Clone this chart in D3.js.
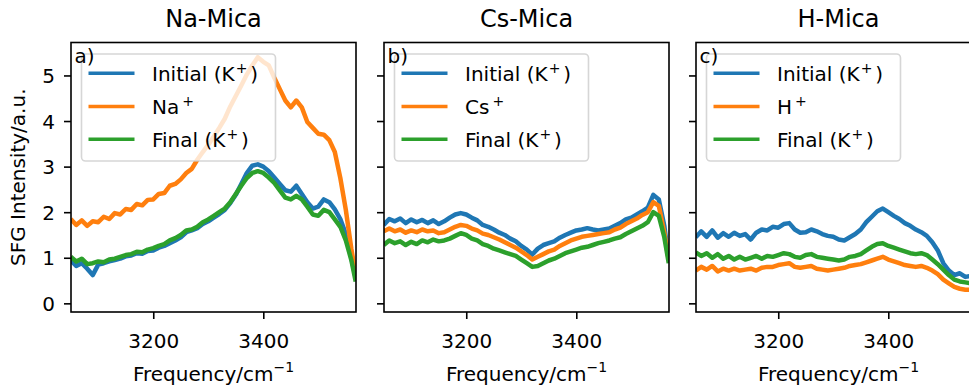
<!DOCTYPE html>
<html><head><meta charset="utf-8">
<script src="https://cdn.jsdelivr.net/npm/d3@7"></script>
<style>body{margin:0;background:#fff} svg{display:block} text{font-family:"DejaVu Sans",sans-serif;fill:#000}</style>
</head><body><svg id="c" width="969" height="389"></svg>
<script>
// ---------------- data ----------------
const frequency = [
 3050,3060,3070,3080,3090,3100,3110,3120,3130,3140,
 3150,3160,3170,3180,3190,3200,3210,3220,3230,3240,
 3250,3260,3270,3280,3290,3300,3310,3320,3330,3340,
 3350,3360,3370,3380,3390,3400,3410,3420,3430,3440,
 3450,3460,3470,3480,3490,3500,3510,3520,3530,3540,
 3550,3560,3568];
const panelTitles = ["Na-Mica","Cs-Mica","H-Mica"];
const panelLetters = ["a)","b)","c)"];
const ionNames = ["Na","Cs","H"];
const xTicks = [3200,3400];
const yTicks = [0,1,2,3,4,5];

const naInitial = [
 0.95,0.82,0.88,0.76,0.62,0.85,0.88,0.92,0.95,0.98,
 1.03,1.05,1.10,1.09,1.15,1.16,1.22,1.26,1.32,1.38,
 1.45,1.56,1.60,1.65,1.74,1.80,1.88,1.96,2.05,2.20,
 2.38,2.62,2.86,3.02,3.05,3.00,2.90,2.76,2.62,2.48,
 2.45,2.58,2.40,2.22,2.08,2.12,2.28,2.22,2.06,1.85,
 1.52,1.00,0.55];
const naIon = [
 1.85,1.72,1.82,1.70,1.80,1.78,1.90,1.85,1.98,1.95,
 2.07,2.05,2.18,2.15,2.27,2.28,2.40,2.42,2.58,2.62,
 2.72,2.86,2.95,3.15,3.32,3.48,3.66,3.85,4.05,4.32,
 4.55,4.78,5.02,5.22,5.40,5.30,5.22,4.95,4.70,4.45,
 4.30,4.45,4.30,3.98,3.85,3.72,3.70,3.58,3.32,2.75,
 2.05,1.20,0.62];
const naFinal = [
 1.02,0.92,0.98,0.86,0.88,0.92,0.90,0.96,0.98,1.02,
 1.06,1.08,1.13,1.12,1.18,1.21,1.26,1.30,1.38,1.43,
 1.50,1.60,1.62,1.68,1.78,1.84,1.92,2.00,2.08,2.22,
 2.40,2.58,2.75,2.86,2.90,2.86,2.76,2.64,2.48,2.32,
 2.28,2.36,2.28,2.12,1.95,1.92,2.05,2.00,1.84,1.68,
 1.38,0.95,0.48];

const csInitial = [
 1.72,1.85,1.80,1.86,1.76,1.84,1.78,1.83,1.76,1.82,
 1.74,1.80,1.88,1.95,1.98,1.95,1.88,1.82,1.72,1.68,
 1.62,1.55,1.50,1.42,1.36,1.26,1.18,1.07,1.20,1.28,
 1.32,1.36,1.44,1.50,1.55,1.60,1.62,1.65,1.62,1.60,
 1.62,1.64,1.70,1.76,1.84,1.88,1.95,2.02,2.10,2.38,
 2.28,1.70,0.95];
const csIon = [
 1.58,1.64,1.58,1.62,1.55,1.60,1.56,1.62,1.58,1.60,
 1.54,1.56,1.62,1.68,1.72,1.70,1.64,1.60,1.53,1.50,
 1.45,1.40,1.34,1.28,1.22,1.14,1.06,0.96,1.02,1.08,
 1.14,1.18,1.26,1.32,1.38,1.42,1.46,1.48,1.50,1.52,
 1.54,1.56,1.62,1.66,1.74,1.80,1.86,1.94,2.00,2.22,
 2.14,1.55,0.95];
const csFinal = [
 1.28,1.38,1.32,1.36,1.28,1.35,1.30,1.38,1.34,1.40,
 1.36,1.38,1.42,1.48,1.54,1.50,1.42,1.38,1.30,1.26,
 1.20,1.16,1.12,1.08,1.04,0.96,0.88,0.80,0.82,0.88,
 0.94,0.98,1.04,1.10,1.14,1.18,1.22,1.24,1.28,1.32,
 1.35,1.38,1.42,1.45,1.52,1.58,1.64,1.70,1.78,2.00,
 1.92,1.45,0.88];

const hInitial = [
 1.45,1.58,1.46,1.60,1.44,1.54,1.46,1.55,1.48,1.52,
 1.40,1.55,1.62,1.60,1.68,1.66,1.74,1.76,1.62,1.55,
 1.56,1.62,1.58,1.52,1.48,1.46,1.40,1.38,1.45,1.52,
 1.62,1.78,1.90,2.02,2.08,2.00,1.92,1.85,1.76,1.70,
 1.62,1.56,1.48,1.34,1.16,0.88,0.72,0.62,0.66,0.58,
 0.60,0.55,0.45];
const hIon = [
 0.72,0.80,0.74,0.82,0.70,0.76,0.72,0.76,0.72,0.74,
 0.76,0.72,0.78,0.80,0.80,0.84,0.86,0.88,0.80,0.78,
 0.80,0.82,0.76,0.74,0.72,0.74,0.76,0.78,0.82,0.84,
 0.86,0.90,0.94,0.98,1.02,0.96,0.92,0.88,0.84,0.82,
 0.80,0.82,0.78,0.72,0.64,0.52,0.44,0.36,0.32,0.30,
 0.30,0.28,0.25];
const hFinal = [
 1.12,1.04,1.10,1.00,1.08,0.98,1.04,0.96,1.02,0.96,
 1.00,1.04,0.98,1.04,1.02,1.06,1.10,1.08,1.02,1.00,
 1.06,1.08,1.02,1.00,0.98,0.96,0.94,0.96,1.02,1.04,
 1.08,1.16,1.24,1.30,1.32,1.26,1.22,1.18,1.14,1.10,
 1.08,1.10,1.06,0.96,0.86,0.74,0.62,0.52,0.48,0.46,
 0.44,0.42,0.38];

const panelSeries = [
  [naInitial, naIon, naFinal],
  [csInitial, csIon, csFinal],
  [hInitial, hIon, hFinal]
];
const colors = ["#1f77b4","#ff7f0e","#2ca02c"];

// ---------------- layout ----------------
const svg = d3.select("#c");
const axLefts = [71, 384, 696];
const axW = 285, axTop = 42.5, axBottom = 312;
const FS = 20;

const y = d3.scaleLinear().domain([-0.19, 5.723]).range([axBottom, axTop]);

// y label
svg.append("text")
  .attr("transform", `translate(25,${(axTop+axBottom)/2}) rotate(-90)`)
  .attr("text-anchor","middle").attr("font-size",FS)
  .text("SFG Intensity/a.u.");

panelSeries.forEach((series, p) => {
  const L = axLefts[p];
  const x = d3.scaleLinear().domain([3050.5, 3568.5]).range([L, L + axW]);
  const g = svg.append("g");

  const clipId = "clip" + p;
  svg.append("clipPath").attr("id", clipId).append("rect")
    .attr("x", L).attr("y", axTop).attr("width", axW).attr("height", axBottom - axTop);

  const line = d3.line().x((d,i) => x(frequency[i])).y(d => y(d));
  const lg = g.append("g").attr("clip-path", `url(#${clipId})`);
  series.forEach((s, k) => {
    lg.append("path").datum(s).attr("d", line)
      .attr("fill","none").attr("stroke", colors[k])
      .attr("stroke-width", 4.5).attr("stroke-linejoin","round");
  });

  // x axis
  const xa = g.append("g").attr("transform", `translate(0,${axBottom})`)
    .call(d3.axisBottom(x).tickValues(xTicks).tickSize(7).tickPadding(7).tickFormat(d3.format("d")));
  xa.select(".domain").remove();
  xa.selectAll(".tick line").attr("stroke","#000").attr("stroke-width",1.6);
  xa.selectAll(".tick text").attr("font-size",FS).attr("font-family","DejaVu Sans").attr("dy",null).attr("y",36);

  // y axis
  const ya = g.append("g").attr("transform", `translate(${L},0)`)
    .call(d3.axisLeft(y).tickValues(yTicks).tickSize(7).tickPadding(9).tickFormat(d3.format("d")));
  ya.select(".domain").remove();
  ya.selectAll(".tick line").attr("stroke","#000").attr("stroke-width",1.6);
  if (p === 0) {
    ya.selectAll(".tick text").attr("font-size",FS).attr("font-family","DejaVu Sans").attr("dy","0.36em");
  } else {
    ya.selectAll(".tick text").remove();
  }

  // frame
  g.append("rect").attr("x", L).attr("y", axTop).attr("width", axW).attr("height", axBottom - axTop)
    .attr("fill","none").attr("stroke","#000").attr("stroke-width",1.6);

  // title
  g.append("text").attr("x", L + axW/2).attr("y", 27).attr("text-anchor","middle")
    .attr("font-size", 24).text(panelTitles[p]);

  // x label
  const xl = g.append("text").attr("x", L + axW/2).attr("y", 381).attr("text-anchor","middle")
    .attr("font-size", FS);
  xl.append("tspan").text("Frequency/cm");
  xl.append("tspan").attr("font-size",14).attr("dy",-9).text("\u22121");

  // legend
  const lgX = L + 10.5, lgY = 54;
  g.append("rect").attr("x", lgX).attr("y", lgY).attr("width", 194).attr("height", 107)
    .attr("rx", 4).attr("fill","#fff").attr("fill-opacity",0.8)
    .attr("stroke","#cccccc").attr("stroke-opacity",0.8).attr("stroke-width",1.6);
  const rowsY = [73.3, 106.5, 139.3];
  const labels = [["Initial (K", ")"], [ionNames[p], ""], ["Final (K", ")"]];
  labels.forEach((lab, k) => {
    g.append("line").attr("x1", lgX + 7).attr("x2", lgX + 53)
      .attr("y1", rowsY[k]).attr("y2", rowsY[k])
      .attr("stroke", colors[k]).attr("stroke-width", 3.6);
    const t = g.append("text").attr("x", lgX + 70.5).attr("y", rowsY[k] + 7.5).attr("font-size", FS);
    t.append("tspan").text(lab[0]);
    t.append("tspan").attr("font-size",14).attr("dx", k===1 ? 3 : 1).attr("dy",-8).text("+");
    if (lab[1]) t.append("tspan").attr("font-size",FS).attr("dx",3).attr("dy",8).text(lab[1]);
  });

  // panel letter
  g.append("text").attr("x", L + 3.5).attr("y", 63).attr("font-size", FS).text(panelLetters[p]);
});
</script></body></html>
